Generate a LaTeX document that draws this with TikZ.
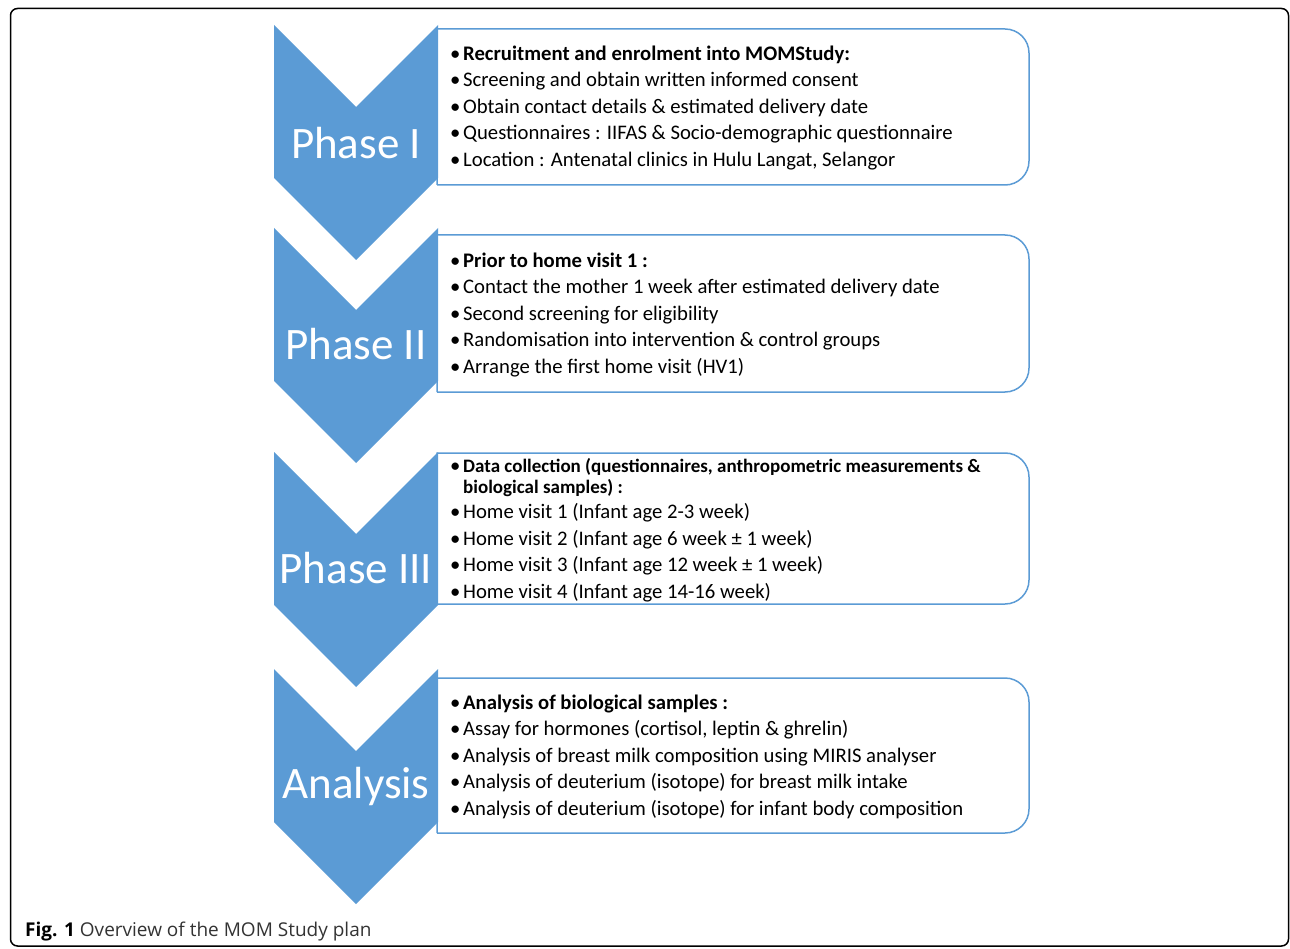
\documentclass[tikz,border=0pt]{standalone}
\usepackage{fontspec}
\setmainfont{Carlito}
\newfontfamily\capfont{Open Sans}
\newcommand{\itm}[1]{\makebox[13pt][l]{\textbullet}#1}
\tikzset{
  chev/.style={fill=phaseblue, draw=none},
  boxline/.style={draw=phaseblue, line width=1.5pt},
  phase/.style={text=white, inner sep=0pt, font=\fontsize{45}{54}\selectfont},
  steps/.style={anchor=west, inner sep=0pt, font=\fontsize{20.7}{26.5}\selectfont},
}

\begin{document}
\begin{tikzpicture}[x=1pt,y=-1pt]
	\definecolor{phaseblue}{HTML}{5B9BD5}
	\definecolor{capgray}{HTML}{333333}
	
	\useasboundingbox (0,0) rectangle (1290,949);
	\draw[line width=1.5pt, rounded corners=7pt] (10.5,8.5) rectangle (1288.5,946);
	
	% chevrons
	\fill[chev] (274,25) -- (356,107) -- (438,25) -- (438,178) -- (356,260) -- (274,178) -- cycle;
	\fill[chev] (274,228) -- (356,310) -- (438,228) -- (438,381) -- (356,463) -- (274,381) -- cycle;
	\fill[chev] (274,452) -- (356,534) -- (438,452) -- (438,605) -- (356,687) -- (274,605) -- cycle;
	\fill[chev] (274,669) -- (356,751) -- (438,669) -- (438,822) -- (356,904) -- (274,822) -- cycle;
	
	% boxes, square on the left and rounded on the right
	\draw[boxline] (437,185) -- (437,29) [rounded corners=24pt] -- (1029,29) -- (1029,185) [sharp corners] -- (437,185);
	\draw[boxline] (437,392) -- (437,235) [rounded corners=24pt] -- (1029,235) -- (1029,392) [sharp corners] -- (437,392);
	\draw[boxline] (437,604) -- (437,453) [rounded corners=24pt] -- (1029,453) -- (1029,604) [sharp corners] -- (437,604);
	\draw[boxline] (437,833) -- (437,678) [rounded corners=24pt] -- (1029,678) -- (1029,833) [sharp corners] -- (437,833);
	
	% labels
	\node[phase] (ph1) at (356,143) {Phase I};
	\node[phase] (ph2) at (356,344) {Phase II};
	\node[phase] (ph3) at (356,568) {Phase III};
	\node[phase] (ph4) at (356,786) {Analysis};
	
	\node[steps] (t1) at (450,108) {
		\begin{tabular}{@{}l@{}}
			\itm{\textbf{Recruitment and enrolment into MOMStudy:}}\\
			\itm{Screening and obtain written informed consent}\\
			\itm{Obtain contact details \& estimated delivery date}\\
			\itm{Questionnaires : IIFAS \& Socio-demographic questionnaire}\\
			\itm{Location : Antenatal clinics in Hulu Langat, Selangor}
		\end{tabular}};
	
	\node[steps] (t2) at (450,315) {
		\begin{tabular}{@{}l@{}}
			\itm{\textbf{Prior to home visit 1 :}}\\
			\itm{Contact the mother 1 week after estimated delivery date}\\
			\itm{Second screening for eligibility}\\
			\itm{Randomisation into intervention \& control groups}\\
			\itm{Arrange the first home visit (HV1)}
		\end{tabular}};
	
	\node[steps] (t3) at (450,530) {
		\begin{tabular}{@{}l@{}}
			\itm{\fontsize{19}{21}\selectfont\textbf{Data collection (questionnaires, anthropometric measurements \&}}\\[-5.5pt]
			\hspace*{13pt}{\fontsize{19}{21}\selectfont\textbf{biological samples) :}}\\[-1.5pt]
			\itm{Home visit 1 (Infant age 2-3 week)}\\
			\itm{Home visit 2 (Infant age 6 week ± 1 week)}\\
			\itm{Home visit 3 (Infant age 12 week ± 1 week)}\\
			\itm{Home visit 4 (Infant age 14-16 week)}
		\end{tabular}};
	
	\node[steps] (t4) at (450,757) {
		\begin{tabular}{@{}l@{}}
			\itm{\textbf{Analysis of biological samples :}}\\
			\itm{Assay for hormones (cortisol, leptin \& ghrelin)}\\
			\itm{Analysis of breast milk composition using MIRIS analyser}\\
			\itm{Analysis of deuterium (isotope) for breast milk intake}\\
			\itm{Analysis of deuterium (isotope) for infant body composition}
		\end{tabular}};
	
	% caption
	\node[anchor=west, inner sep=0pt, text=capgray, font=\capfont\fontsize{19}{22}\selectfont] (cap) at (25,932)
		{\textcolor{black}{\textbf{Fig. 1}} Overview of the MOM Study plan};
\end{tikzpicture}
\end{document}
